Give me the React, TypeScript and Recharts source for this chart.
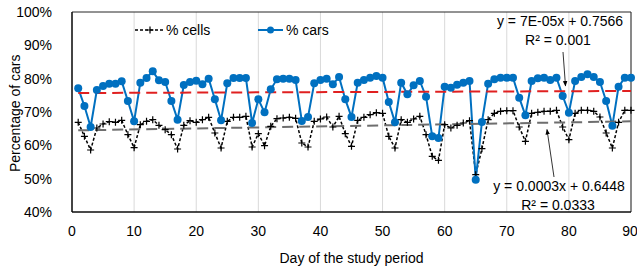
import { ComposedChart, Line, XAxis, YAxis, CartesianGrid, ReferenceArea, Legend } from 'recharts'

const days = [
  1, 2, 3, 4, 5, 6, 7, 8, 9, 10, 11, 12, 13, 14, 15, 16, 17, 18, 19, 20,
  21, 22, 23, 24, 25, 26, 27, 28, 29, 30, 31, 32, 33, 34, 35, 36, 37, 38, 39, 40,
  41, 42, 43, 44, 45, 46, 47, 48, 49, 50, 51, 52, 53, 54, 55, 56, 57, 58, 59, 60,
  61, 62, 63, 64, 65, 66, 67, 68, 69, 70, 71, 72, 73, 74, 75, 76, 77, 78, 79, 80,
  81, 82, 83, 84, 85, 86, 87, 88, 89, 90,
]

// % cars per day
const cars = [
  77.1, 71.8, 65.5, 76.6, 77.8, 78.5, 78.5, 79.2, 73.3, 67.2,
  78.8, 80.2, 82.2, 79.5, 79.0, 73.3, 67.7, 78.1, 79.0, 79.4,
  78.3, 80.0, 73.8, 67.5, 78.6, 80.2, 80.2, 80.2, 66.7, 73.8,
  69.9, 76.8, 79.8, 80.0, 80.0, 79.6, 67.3, 68.5, 78.6, 79.6,
  80.0, 78.3, 80.5, 73.8, 68.5, 78.8, 79.6, 80.3, 80.8, 80.3,
  73.0, 66.9, 78.8, 75.3, 78.0, 79.3, 74.6, 62.7, 62.2, 77.6,
  77.3, 78.2, 78.8, 79.3, 49.7, 67.0, 78.5, 79.8, 80.3, 80.3,
  80.3, 74.3, 69.0, 79.3, 80.1, 80.3, 79.6, 80.3, 74.8, 69.8,
  79.3, 80.5, 81.3, 80.5, 79.0, 73.3, 65.9, 77.6, 80.3, 80.3,
]

// % cells per day
const cells = [
  66.9, 62.7, 58.6, 65.2, 66.4, 67.1, 66.9, 67.5, 63.2, 59.3,
  66.2, 67.2, 67.7, 66.0, 64.7, 63.2, 58.9, 66.0, 67.4, 66.9,
  67.7, 68.4, 63.7, 59.2, 67.2, 68.4, 68.4, 68.7, 59.5, 63.5,
  59.9, 65.7, 68.0, 68.2, 68.4, 68.1, 60.7, 59.5, 67.2, 67.9,
  68.5, 65.5, 68.7, 63.5, 59.7, 67.5, 68.4, 69.2, 69.8, 69.6,
  62.7, 59.2, 67.7, 66.9, 67.9, 68.7, 63.2, 56.7, 55.5, 66.2,
  65.2, 66.0, 66.7, 67.4, 51.2, 59.0, 67.7, 69.6, 70.2, 70.4,
  70.4, 65.5, 61.2, 69.6, 69.9, 70.2, 70.2, 70.5, 65.5, 61.7,
  69.6, 70.5, 70.5, 70.2, 68.5, 63.7, 59.2, 66.9, 70.5, 70.5,
]

// linear trendline end points (day 1 and day 90)
const carsTrend = [75.7, 76.3]
const cellsTrend = [64.5, 67.2]

const xTicks = [0, 10, 20, 30, 40, 50, 60, 70, 80, 90]
const yTicks = [40, 50, 60, 70, 80, 90, 100]

const FONT = '"Liberation Sans", Arial, sans-serif'
const BLUE = '#0070C0'

const data = days.map((day, i) => ({
  day,
  cars: cars[i],
  cells: cells[i],
  carsTrend: i === 0 ? carsTrend[0] : i === days.length - 1 ? carsTrend[1] : null,
  cellsTrend: i === 0 ? cellsTrend[0] : i === days.length - 1 ? cellsTrend[1] : null,
}))

function PlusDot(props: any) {
  const { cx, cy } = props
  if (cx == null || cy == null) return null
  return <path d={`M${cx - 3.5},${cy}H${cx + 3.5}M${cx},${cy - 3.5}V${cy + 3.5}`} stroke="#000" strokeWidth={1.2} fill="none" />
}

function ChartLegend() {
  return (
    <svg width={200} height={18} style={{ display: 'block', overflow: 'visible' }}>
      <line x1={0} y1={9} x2={30} y2={9} stroke="#000" strokeWidth={1.5} strokeDasharray="3 2" />
      <PlusDot cx={15} cy={9} />
      <text x={31} y={14} fontSize={14} fontFamily={FONT} fill="#000">% cells</text>
      <line x1={123} y1={9} x2={148} y2={9} stroke={BLUE} strokeWidth={2} />
      <circle cx={135.5} cy={9} r={3.5} fill={BLUE} />
      <text x={151} y={14} fontSize={14} fontFamily={FONT} fill="#000">% cars</text>
    </svg>
  )
}

export default function App() {
  return (
    <div style={{ position: 'absolute', left: 0, top: 0, width: 637, height: 267, background: '#fff' }}>
      <ComposedChart width={637} height={267} data={data} margin={{ top: 12, right: 6, bottom: 0, left: 0 }}>
        <CartesianGrid horizontal={false} stroke="#d9d9d9" />
        <XAxis
          dataKey="day"
          type="number"
          domain={[0, 90]}
          ticks={xTicks}
          tickLine={false}
          axisLine={{ stroke: '#000' }}
          height={55}
          tick={{ fontSize: 14, fill: '#000', fontFamily: FONT }}
          tickMargin={8}
          label={{ value: 'Day of the study period', position: 'insideBottom', offset: 4, fontSize: 14, fill: '#000', fontFamily: FONT }}
        />
        <YAxis
          type="number"
          domain={[40, 100]}
          ticks={yTicks}
          tickFormatter={(v) => `${v}%`}
          tickLine={false}
          axisLine={{ stroke: '#000' }}
          width={72}
          tick={{ fontSize: 14, fill: '#000', fontFamily: FONT }}
          tickMargin={14}
          label={{ value: 'Percentage of cars', angle: -90, position: 'insideLeft', offset: 15, dy: 60, fontSize: 14, fill: '#000', fontFamily: FONT }}
        />
        <ReferenceArea x1={0} x2={90} y1={40} y2={100} fill="none" stroke="#262626" strokeWidth={1} />
        <Legend verticalAlign="middle" layout="horizontal" wrapperStyle={{ top: 21, left: 135, width: 200 }} content={() => <ChartLegend />} />
        <Line
          dataKey="cells"
          stroke="#000"
          strokeWidth={1.5}
          strokeDasharray="3 2"
          dot={<PlusDot />}
          activeDot={false}
          isAnimationActive={false}
        />
        <Line
          dataKey="cars"
          stroke={BLUE}
          strokeWidth={2}
          dot={{ r: 4, fill: BLUE, stroke: BLUE, strokeWidth: 0 }}
          activeDot={false}
          isAnimationActive={false}
        />
        <Line dataKey="carsTrend" connectNulls stroke="#E02020" strokeWidth={2} strokeDasharray="11 6" dot={false} activeDot={false} isAnimationActive={false} />
        <Line dataKey="cellsTrend" connectNulls stroke="#6E6E6E" strokeWidth={2} strokeDasharray="11 6" dot={false} activeDot={false} isAnimationActive={false} />
      </ComposedChart>
      <svg width={637} height={267} style={{ position: 'absolute', left: 0, top: 0, pointerEvents: 'none' }}>
        <defs>
          <marker id="arr" viewBox="0 0 10 10" refX={9} refY={5} markerWidth={7} markerHeight={7} orient="auto">
            <path d="M0,1L10,5L0,9z" fill="#000" />
          </marker>
        </defs>
        <g fontFamily={FONT} fontSize={14} fill="#000" textAnchor="middle">
          <text x={560} y={26}>y = 7E-05x + 0.7566</text>
          <text x={558} y={45}>R² = 0.001</text>
          <text x={559} y={191}>y = 0.0003x + 0.6448</text>
          <text x={558} y={210}>R² = 0.0333</text>
        </g>
        <line x1={563} y1={52} x2={565.5} y2={86} stroke="#000" strokeWidth={0.8} markerEnd="url(#arr)" />
        <line x1={554} y1={177} x2={547} y2={129.5} stroke="#000" strokeWidth={0.8} markerEnd="url(#arr)" />
      </svg>
    </div>
  )
}
